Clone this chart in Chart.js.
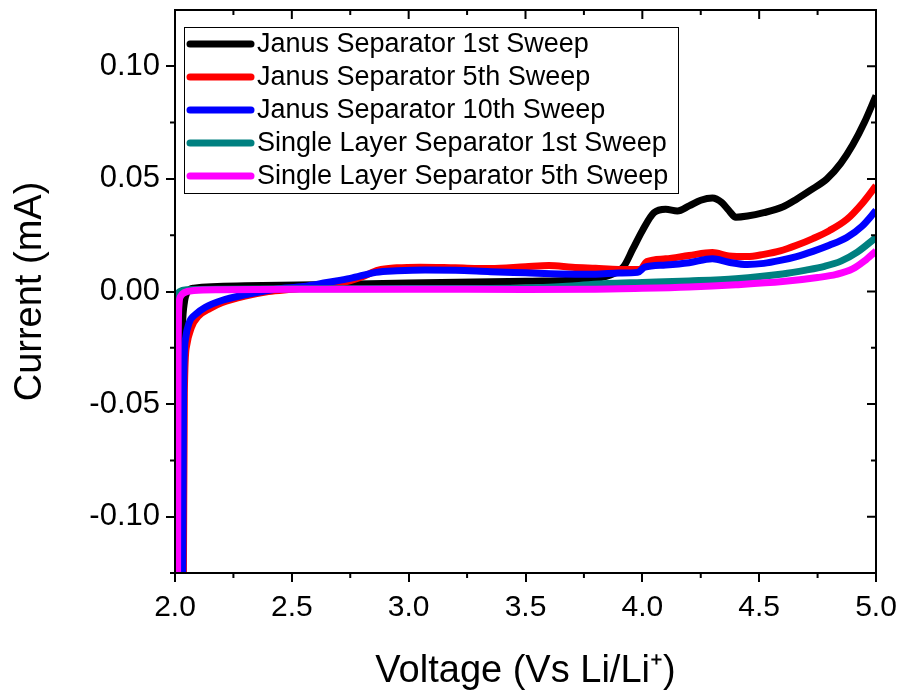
<!DOCTYPE html>
<html>
<head>
<meta charset="utf-8">
<script src="https://cdn.jsdelivr.net/npm/chart.js@4/dist/chart.umd.min.js"></script>
<style>
  html, body { margin: 0; padding: 0; background: #fff; }
  #wrap { width: 904px; height: 694px; }
</style>
</head>
<body>
<div id="wrap"><canvas id="chart" width="904" height="694"></canvas></div>
<script>
const FONT = "'Liberation Sans', Arial, sans-serif";

// tick labels
const xTicks = [2.0, 2.5, 3.0, 3.5, 4.0, 4.5, 5.0];
const yTicks = [-0.10, -0.05, 0.00, 0.05, 0.10];

// Janus separator, 1st sweep
const janus1V = [2.024, 2.027, 2.032, 2.04, 2.055, 2.08, 2.3, 2.6, 3.0, 3.5, 3.8, 3.88, 3.92, 3.96, 4.0, 4.05, 4.1, 4.15, 4.2, 4.25, 4.3, 4.34, 4.37, 4.4, 4.45, 4.52, 4.6, 4.66, 4.72, 4.79, 4.85, 4.9, 4.95, 5.0];
const janus1I = [-0.125, -0.04, -0.015, -0.005, 0.0, 0.0015, 0.0025, 0.003, 0.0038, 0.0045, 0.0058, 0.008, 0.011, 0.019, 0.027, 0.035, 0.0365, 0.0358, 0.038, 0.0405, 0.0415, 0.0395, 0.036, 0.033, 0.0335, 0.035, 0.0375, 0.041, 0.045, 0.05, 0.057, 0.065, 0.075, 0.087];

// Janus separator, 5th sweep
const janus5V = [2.036, 2.04, 2.05, 2.07, 2.1, 2.15, 2.2, 2.3, 2.4, 2.5, 2.6, 2.7, 2.8, 2.87, 2.95, 3.05, 3.2, 3.35, 3.5, 3.6, 3.7, 3.8, 3.9, 3.99, 4.02, 4.1, 4.2, 4.3, 4.37, 4.45, 4.52, 4.59, 4.66, 4.73, 4.8, 4.875, 4.94, 5.0];
const janus5I = [-0.125, -0.045, -0.024, -0.016, -0.011, -0.0075, -0.005, -0.002, 0.0, 0.001, 0.002, 0.0035, 0.0065, 0.0095, 0.0105, 0.0108, 0.0105, 0.0102, 0.011, 0.0115, 0.0108, 0.0103, 0.0098, 0.0098, 0.0133, 0.0145, 0.016, 0.0173, 0.0158, 0.0155, 0.0165, 0.018, 0.0205, 0.0235, 0.027, 0.032, 0.039, 0.047];

// Janus separator, 10th sweep
const janus10V = [2.033, 2.037, 2.045, 2.06, 2.09, 2.13, 2.2, 2.3, 2.43, 2.55, 2.65, 2.75, 2.86, 2.95, 3.07, 3.2, 3.35, 3.5, 3.65, 3.8, 3.9, 3.98, 4.01, 4.1, 4.2, 4.3, 4.37, 4.45, 4.52, 4.59, 4.66, 4.73, 4.8, 4.875, 4.94, 5.0];
const janus10I = [-0.125, -0.04, -0.021, -0.014, -0.01, -0.007, -0.004, -0.0015, 0.001, 0.0022, 0.004, 0.0058, 0.0085, 0.0092, 0.0096, 0.0094, 0.0088, 0.0083, 0.0078, 0.0077, 0.0082, 0.0085, 0.0108, 0.0118, 0.0128, 0.0145, 0.013, 0.012, 0.0125, 0.0138, 0.0155, 0.0178, 0.0205, 0.024, 0.029, 0.036];

// single layer separator, 1st sweep
const single1V = [2.0, 2.008, 2.02, 2.05, 2.2, 2.5, 3.0, 3.5, 3.7, 3.85, 4.0, 4.2, 4.4, 4.6, 4.7, 4.78, 4.85, 4.92, 5.0];
const single1I = [-0.004, -0.0015, 0.0, 0.0008, 0.001, 0.0012, 0.0013, 0.0016, 0.0025, 0.0035, 0.004, 0.0047, 0.0057, 0.0078, 0.0095, 0.0112, 0.0135, 0.0175, 0.024];

// single layer separator, 5th sweep
const single5V = [2.011, 2.013, 2.017, 2.025, 2.04, 2.08, 2.2, 2.5, 3.0, 3.5, 3.8, 4.0, 4.2, 4.4, 4.6, 4.75, 4.83, 4.9, 4.95, 5.0];
const single5I = [-0.125, -0.03, -0.006, -0.002, -0.0005, 0.0004, 0.0008, 0.001, 0.001, 0.0009, 0.001, 0.0014, 0.002, 0.003, 0.0044, 0.0062, 0.0076, 0.01, 0.0135, 0.018];

function points(xs, ys) {
  return xs.map((x, i) => ({ x: x, y: ys[i] }));
}

function series(label, color, xs, ys, order) {
  return {
    label: label,
    data: points(xs, ys),
    borderColor: color,
    backgroundColor: color,
    borderWidth: 7,
    pointRadius: 0,
    cubicInterpolationMode: "monotone",
    fill: false,
    order: order,
  };
}

// frame, mirrored inward ticks on top/right, minor ticks, and the boxed legend
const framePlugin = {
  id: "frame",
  afterDraw(chart) {
    const ctx = chart.ctx;
    const area = chart.chartArea;
    const xs = chart.scales.x;
    const ys = chart.scales.y;
    ctx.save();
    ctx.strokeStyle = "#000";
    ctx.lineWidth = 2;
    ctx.strokeRect(area.left, area.top, area.right - area.left, area.bottom - area.top);

    const major = 9, minor = 5;
    ctx.beginPath();
    xTicks.forEach((v, i) => {
      const px = xs.getPixelForValue(v);
      ctx.moveTo(px, area.top);
      ctx.lineTo(px, area.top + major);
      if (i < xTicks.length - 1) {
        const mx = xs.getPixelForValue((v + xTicks[i + 1]) / 2);
        ctx.moveTo(mx, area.top);
        ctx.lineTo(mx, area.top + minor);
        ctx.moveTo(mx, area.bottom);
        ctx.lineTo(mx, area.bottom + minor);
      }
    });
    const yMinor = [-0.125, -0.075, -0.025, 0.025, 0.075];
    yTicks.forEach((v) => {
      const py = ys.getPixelForValue(v);
      ctx.moveTo(area.right, py);
      ctx.lineTo(area.right - major, py);
    });
    yMinor.forEach((v) => {
      const py = ys.getPixelForValue(v);
      ctx.moveTo(area.right, py);
      ctx.lineTo(area.right - minor, py);
      ctx.moveTo(area.left, py);
      ctx.lineTo(area.left - minor, py);
    });
    ctx.stroke();

    // legend box
    const box = { left: 184, top: 27, right: 678, bottom: 193 };
    ctx.lineWidth = 1;
    ctx.strokeRect(box.left + 0.5, box.top + 0.5, box.right - box.left, box.bottom - box.top);
    ctx.font = "27px " + FONT;
    ctx.textBaseline = "middle";
    ctx.textAlign = "left";
    chart.data.datasets.forEach((ds, i) => {
      const cy = 44 + i * 33;
      ctx.strokeStyle = ds.borderColor;
      ctx.lineWidth = 7;
      ctx.lineCap = "round";
      ctx.beginPath();
      ctx.moveTo(190, cy);
      ctx.lineTo(251, cy);
      ctx.stroke();
      ctx.fillStyle = "#000";
      ctx.fillText(ds.label, 257, cy + 1);
    });
    ctx.restore();
  },
};

const chart = new Chart(document.getElementById("chart"), {
  type: "line",
  data: {
    datasets: [
      series("Janus Separator 1st Sweep", "#000000", janus1V, janus1I, 4),
      series("Janus Separator 5th Sweep", "#ff0000", janus5V, janus5I, 3),
      series("Janus Separator 10th Sweep", "#0000ff", janus10V, janus10I, 2),
      series("Single Layer Separator 1st Sweep", "#008080", single1V, single1I, 1),
      series("Single Layer Separator 5th Sweep", "#ff00ff", single5V, single5I, 0),
    ],
  },
  options: {
    responsive: false,
    animation: false,
    layout: { padding: { left: 0, right: 28, top: 10, bottom: 0 } },
    plugins: {
      legend: { display: false },
      tooltip: { enabled: false },
    },
    scales: {
      x: {
        type: "linear",
        min: 2.0,
        max: 5.0,
        afterFit: (s) => { s.height = 121; s.paddingLeft = 0; s.paddingRight = 0; },
        afterBuildTicks: (s) => { s.ticks = xTicks.map((v) => ({ value: v })); },
        border: { display: true, color: "#000", width: 2 },
        grid: { drawOnChartArea: false, drawTicks: true, tickLength: 9, color: "#000", lineWidth: 2 },
        ticks: {
          color: "#000",
          font: { family: FONT, size: 30 },
          padding: 8,
          maxRotation: 0,
          callback: (v) => Number(v).toFixed(1),
        },
        title: {
          display: true,
          text: "Voltage (Vs Li/Li\u207A)",
          color: "#000",
          font: { family: FONT, size: 38 },
          padding: { top: 0, bottom: 0 },
        },
      },
      y: {
        type: "linear",
        min: -0.125,
        max: 0.125,
        afterFit: (s) => { s.width = 175; s.paddingTop = 0; s.paddingBottom = 0; },
        afterBuildTicks: (s) => { s.ticks = yTicks.map((v) => ({ value: v })); },
        border: { display: true, color: "#000", width: 2 },
        grid: { drawOnChartArea: false, drawTicks: true, tickLength: 9, color: "#000", lineWidth: 2 },
        ticks: {
          color: "#000",
          font: { family: FONT, size: 31 },
          padding: 6,
          callback: (v) => Number(v).toFixed(2),
        },
        title: {
          display: true,
          text: "Current (mA)",
          color: "#000",
          font: { family: FONT, size: 38 },
          padding: { top: 8, bottom: 0 },
        },
      },
    },
  },
  plugins: [framePlugin],
});
</script>
</body>
</html>
